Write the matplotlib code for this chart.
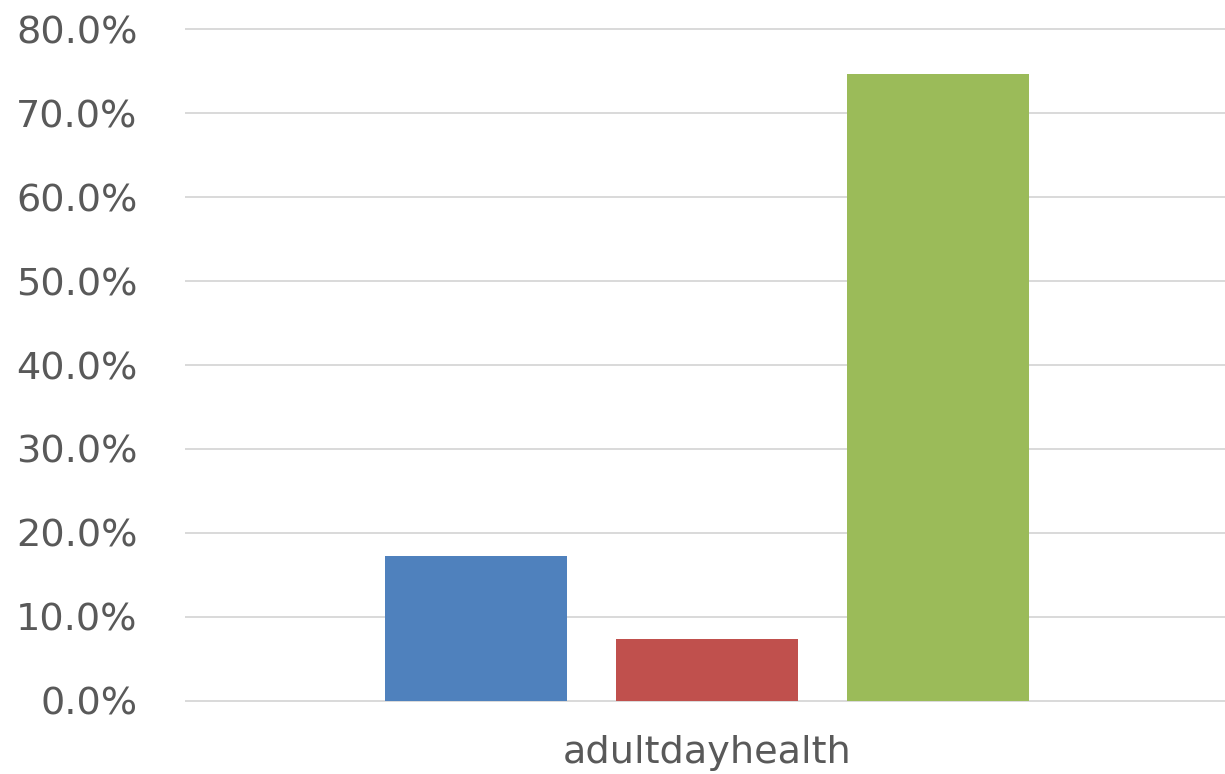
import matplotlib
matplotlib.use("Agg")
import matplotlib.pyplot as plt
from matplotlib.ticker import PercentFormatter

# share of responses for the single service category
category = "adultdayhealth"
series_names = ["Series 1", "Series 2", "Series 3"]
values = [0.173, 0.074, 0.747]
colors = ["#4F81BD", "#C0504D", "#9BBB59"]
yticks = [0.0, 0.1, 0.2, 0.3, 0.4, 0.5, 0.6, 0.7, 0.8]

W, H = 1225, 774
fig = plt.figure(figsize=(W / 100, H / 100), dpi=100)
ax = fig.add_axes([186 / W, (H - 700.7) / H, (1228 - 186) / W, (700.7 - 29.3) / H])

bar_w = 0.79
xpos = [-1, 0, 1]
for x, v, c in zip(xpos, values, colors):
    ax.bar(x, v, width=bar_w, color=c, zorder=3)

ax.set_xlim(-2.255, 2.255)
ax.set_ylim(0, 0.8)
ax.set_yticks(yticks)
ax.yaxis.set_major_formatter(PercentFormatter(1.0, decimals=1))
ax.set_xticks([0])
ax.set_xticklabels([category])

ax.grid(axis="y", color="#d9d9d9", linewidth=1.4, zorder=0)
for gl in ax.get_ygridlines():
    gl.set_clip_on(False)
for s in ax.spines.values():
    s.set_visible(False)
ax.tick_params(axis="y", length=0, pad=35, labelsize=27.5, labelcolor="#595959")
ax.tick_params(axis="x", length=0, pad=25, labelsize=27.5, labelcolor="#595959")

fig.savefig("out.png", dpi=100)
